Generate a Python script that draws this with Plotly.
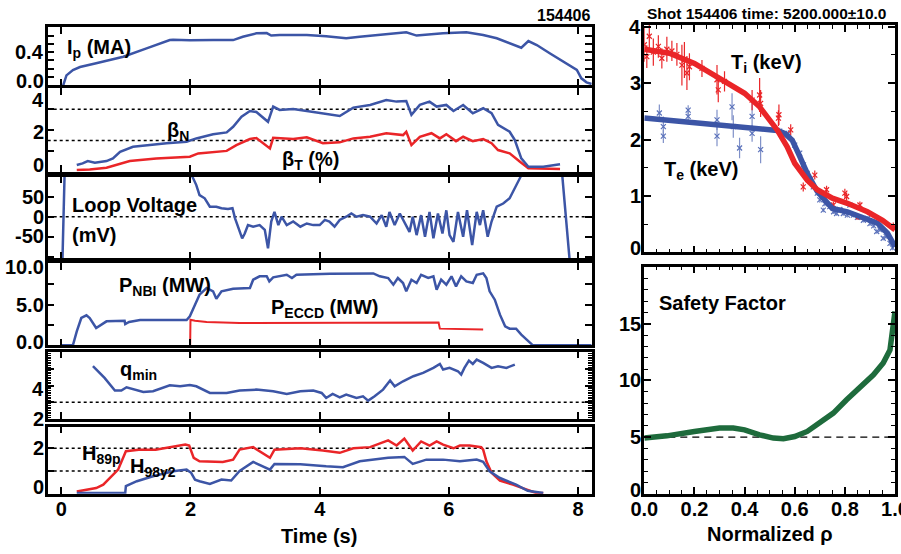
import plotly.graph_objects as go

# ---------------- data ----------------
ip_t = [0.03, 0.08, 0.18, 0.29, 0.54, 0.96, 1.32, 1.68, 1.73, 1.99,
        2.35, 2.66, 2.81, 3.02, 3.18, 3.25, 3.38, 3.80, 4.10, 4.41,
        4.62, 5.14, 5.34, 5.50, 5.91, 6.27, 6.53, 6.74, 6.94, 7.12,
        7.23, 7.36, 7.56, 7.77, 7.98, 8.05, 8.13, 8.21]
ip_v = [0.00, 0.12, 0.185, 0.22, 0.265, 0.345, 0.446, 0.546, 0.55, 0.543,
        0.546, 0.546, 0.586, 0.627, 0.63, 0.60, 0.607, 0.607, 0.593, 0.567,
        0.586, 0.619, 0.64, 0.60, 0.627, 0.64, 0.607, 0.567, 0.507, 0.454,
        0.534, 0.486, 0.386, 0.285, 0.185, 0.084, 0.036, 0.016]

betan_t = [0.24, 0.33, 0.41, 0.52, 0.70, 0.80, 0.91, 1.03, 1.11, 1.37,
           1.63, 1.94, 2.09, 2.35, 2.56, 2.66, 2.79, 2.92, 3.02, 3.20,
           3.28, 3.38, 3.59, 3.80, 3.95, 4.05, 4.31, 4.52, 4.78, 5.03,
           5.19, 5.34, 5.42, 5.55, 5.70, 5.81, 5.96, 6.07, 6.22, 6.37,
           6.53, 6.66, 6.76, 6.94, 7.02, 7.12, 7.23, 7.46, 7.72]
betan_v = [0.32, 0.40, 0.51, 0.43, 0.51, 0.64, 0.96, 1.09, 1.20, 1.28,
           1.37, 1.44, 1.60, 1.80, 1.89, 2.16, 2.64, 2.92, 2.87, 2.40,
           3.13, 2.97, 3.01, 2.92, 2.86, 2.81, 2.68, 3.08, 3.21, 3.45,
           3.37, 3.40, 2.73, 3.21, 3.37, 3.13, 3.21, 2.92, 3.21, 2.81,
           3.05, 2.81, 2.25, 1.92, 1.52, 0.64, 0.24, 0.24, 0.36]

betat_t = [0.24, 0.44, 0.70, 0.91, 1.06, 1.47, 1.99, 2.12, 2.56, 2.71,
           2.92, 3.02, 3.23, 3.28, 3.59, 3.80, 4.05, 4.31, 4.52, 4.78,
           5.03, 5.29, 5.34, 5.42, 5.55, 5.73, 5.86, 5.96, 6.11, 6.22,
           6.37, 6.53, 6.66, 6.76, 6.94, 7.10, 7.23, 7.72]
betat_v = [0.08, 0.11, 0.19, 0.36, 0.51, 0.64, 0.72, 0.88, 1.00, 1.28,
           1.57, 1.62, 1.12, 1.63, 1.57, 1.65, 1.37, 1.41, 1.60, 1.68,
           1.85, 1.76, 1.92, 1.28, 1.68, 1.85, 1.60, 1.80, 1.47, 1.68,
           1.47, 1.57, 1.37, 1.04, 0.88, 0.48, 0.16, 0.13]

vloop_t = [0.015, 0.055, 2.00, 2.03, 2.09, 2.14, 2.22, 2.30, 2.40, 2.48,
           2.58, 2.65, 2.69, 2.76, 2.80, 2.84, 2.89, 2.97, 3.07, 3.15,
           3.20, 3.25, 3.30, 3.36, 3.41, 3.49, 3.59, 3.70, 3.80, 3.90,
           4.00, 4.08, 4.15, 4.23, 4.31, 4.41, 4.49, 4.57, 4.67, 4.78,
           4.88, 4.96, 5.03, 5.08, 5.16, 5.24, 5.31, 5.39, 5.44, 5.50,
           5.57, 5.63, 5.70, 5.76, 5.83, 5.90, 5.96, 6.01, 6.07, 6.14,
           6.22, 6.28, 6.36, 6.43, 6.48, 6.53, 6.60, 6.66, 6.74, 6.84,
           6.94, 7.02, 7.11, 7.15, 7.74, 7.88]
vloop_v = [-130, 130, 130, 100, 79, 54, 46, 25, 25, 21,
           19, 21, -4, -33, -54, -42, -21, -25, -21, -33,
           -79, -12, 12, -21, 0, -21, -12, -25, -17, -21,
           -21, -8, -12, -25, -8, 0, 8, 0, 4, 0,
           -17, 4, -25, 12, -21, 8, -12, -38, 0, -46,
           4, -50, 12, -54, 8, -42, 16, -46, -63, 12,
           -50, 16, -71, 12, -21, 16, -50, -12, 25, 33,
           46, 71, 100, 130, 130, -130]

pnbi_t = [0.00, 0.18, 0.24, 0.31, 0.39, 0.44, 0.54, 0.62, 0.70, 0.98,
          0.99, 1.05, 1.22, 1.94, 1.99, 2.07, 2.14, 2.25, 2.35, 2.40,
          2.48, 2.66, 2.92, 2.97, 3.07, 3.18, 3.22, 3.28, 3.49, 3.57,
          3.64, 4.16, 4.83, 4.93, 5.06, 5.14, 5.21, 5.29, 5.34, 5.42,
          5.50, 5.57, 5.68, 5.76, 5.81, 5.88, 5.96, 6.04, 6.11, 6.19,
          6.27, 6.37, 6.43, 6.53, 6.58, 6.63, 6.71, 6.79, 6.87, 6.94,
          7.04, 7.12, 7.20, 7.30, 8.21]
pnbi_v = [0.0, 0.0, 1.72, 3.36, 3.69, 3.36, 2.13, 2.54, 2.95, 3.03,
          2.62, 2.87, 3.11, 3.11, 3.57, 5.00, 6.23, 7.05, 6.64, 5.73,
          6.64, 6.96, 7.05, 8.07, 8.49, 8.49, 7.87, 8.36, 8.68, 8.28,
          8.68, 8.81, 8.85, 8.49, 8.28, 7.46, 8.28, 7.66, 6.64, 8.07,
          7.66, 8.68, 8.28, 8.49, 6.84, 8.07, 7.46, 8.49, 7.25, 8.49,
          7.87, 7.66, 8.68, 8.85, 8.28, 6.64, 5.61, 3.77, 2.34, 2.05,
          2.05, 1.31, 0.69, 0.0, 0.0]

peccd_t = [1.995, 2.00, 2.07, 2.25, 2.76, 4.16, 5.84, 5.86, 6.53]
peccd_v = [0.0, 3.15, 3.03, 2.87, 2.75, 2.75, 2.80, 2.05, 1.93]

qmin_t = [0.49, 0.67, 0.83, 0.93, 1.01, 1.09, 1.27, 1.42, 1.68, 1.84,
          1.99, 2.09, 2.30, 2.56, 2.76, 3.02, 3.28, 3.49, 3.70, 3.90,
          4.03, 4.10, 4.20, 4.31, 4.41, 4.57, 4.67, 4.75, 4.85, 4.98,
          5.09, 5.16, 5.29, 5.45, 5.60, 5.76, 5.86, 5.91, 6.01, 6.14,
          6.19, 6.24, 6.31, 6.37, 6.43, 6.53, 6.66, 6.76, 6.89, 7.02]
qmin_v = [5.16, 4.46, 3.70, 3.70, 3.90, 3.80, 3.62, 3.66, 4.02, 3.96,
          4.04, 3.96, 3.56, 3.56, 3.70, 3.76, 3.66, 3.50, 3.66, 3.70,
          3.56, 3.26, 3.50, 3.30, 3.46, 3.26, 3.36, 3.10, 3.36, 3.76,
          4.30, 3.96, 4.26, 4.56, 4.76, 5.06, 5.30, 4.96, 5.06, 4.86,
          4.66, 5.06, 5.50, 5.30, 5.56, 5.36, 5.06, 5.16, 5.06, 5.26]

h89_t = [0.24, 0.54, 0.65, 0.78, 0.88, 1.00, 1.20, 1.46, 1.72, 1.92,
         1.98, 2.05, 2.14, 2.50, 2.66, 2.76, 2.97, 3.23, 3.30, 3.70,
         4.05, 4.31, 4.52, 4.78, 5.06, 5.19, 5.31, 5.44, 5.57, 5.70,
         5.81, 5.91, 6.07, 6.17, 6.32, 6.50, 6.53, 6.58, 6.66, 6.79,
         6.99, 7.20, 7.35, 7.46]
h89_v = [0.10, 0.25, 0.40, 0.77, 1.06, 1.87, 1.93, 1.94, 2.05, 2.16,
         2.12, 1.58, 1.43, 1.40, 1.50, 1.94, 2.05, 1.58, 1.94, 2.00,
         1.90, 1.80, 2.00, 2.05, 2.35, 2.12, 2.43, 1.90, 2.30, 2.12,
         2.30, 2.16, 2.00, 2.12, 2.12, 2.05, 1.94, 1.43, 0.92, 0.58,
         0.40, 0.18, 0.03, 0.03]

h98_t = [0.24, 0.99, 1.00, 1.17, 1.42, 1.73, 1.94, 2.01, 2.07, 2.14,
         2.30, 2.48, 2.63, 2.76, 2.97, 3.23, 3.30, 3.70, 4.10, 4.36,
         4.62, 5.06, 5.31, 5.44, 5.65, 5.91, 6.17, 6.43, 6.53, 6.63,
         6.79, 7.04, 7.22, 7.46]
h98_v = [0.03, 0.03, 0.33, 0.55, 0.77, 0.99, 1.06, 0.92, 0.62, 0.55,
         0.43, 0.62, 0.58, 1.00, 1.40, 1.06, 1.31, 1.30, 1.21, 1.17,
         1.43, 1.58, 1.62, 1.31, 1.50, 1.50, 1.43, 1.50, 1.40, 0.99,
         0.69, 0.40, 0.13, 0.03]

# profiles at t = 5200 ms
ti_fit_rho = [0.0, 0.1, 0.2, 0.3, 0.355, 0.4, 0.46, 0.53, 0.57, 0.6,
              0.65, 0.69, 0.75, 0.81, 0.89, 0.95, 1.0]
ti_fit = [3.60, 3.53, 3.35, 3.09, 2.94, 2.82, 2.58, 2.17, 1.87, 1.58,
          1.28, 1.11, 0.96, 0.87, 0.72, 0.57, 0.40]
te_fit_rho = [0.0, 0.22, 0.42, 0.53, 0.56, 0.59, 0.62, 0.65, 0.69, 0.73,
              0.75, 0.81, 0.87, 0.93, 0.97, 1.0]
te_fit = [2.38, 2.29, 2.20, 2.16, 2.11, 1.99, 1.70, 1.40, 1.08, 0.87,
          0.78, 0.72, 0.63, 0.52, 0.34, 0.10]

ti_rho = [0.0, 0.01, 0.02, 0.036, 0.056, 0.07, 0.09, 0.11, 0.13, 0.15,
          0.16, 0.17, 0.18, 0.23, 0.29, 0.295, 0.32, 0.43, 0.46, 0.464,
          0.535, 0.537, 0.584, 0.634, 0.68, 0.727, 0.754, 0.80, 0.807, 0.86,
          0.854, 0.993]
ti_val = [3.68, 3.47, 3.83, 3.55, 3.65, 3.44, 3.60, 3.57, 3.51, 3.32,
          3.41, 3.18, 3.29, 3.26, 3.06, 2.88, 3.03, 2.70, 2.79, 2.64,
          2.38, 2.44, 2.17, 1.16, 1.37, 1.11, 0.84, 1.05, 0.99, 0.84,
          0.63, 0.46]
ti_err = [0.30, 0.20, 0.28, 0.24, 0.20, 0.18, 0.22, 0.18, 0.20, 0.36,
          0.32, 0.30, 0.24, 0.15, 0.26, 0.22, 0.18, 0.18, 0.30, 0.24,
          0.14, 0.18, 0.10, 0.08, 0.08, 0.07, 0.06, 0.08, 0.07, 0.06,
          0.05, 0.07]

te_rho = [0.06, 0.076, 0.076, 0.175, 0.175, 0.29, 0.29, 0.35, 0.355, 0.38,
          0.43, 0.43, 0.464, 0.54, 0.575, 0.60, 0.62, 0.635, 0.65, 0.66,
          0.674, 0.69, 0.70, 0.714, 0.72, 0.74, 0.755, 0.767, 0.78, 0.794,
          0.81, 0.82, 0.834, 0.85, 0.874, 0.89, 0.90, 0.915, 0.927, 0.94,
          0.953, 0.965, 0.98, 0.99]
te_val = [2.47, 2.23, 2.06, 2.52, 2.41, 2.35, 2.06, 2.58, 2.23, 1.85,
          2.41, 2.11, 1.82, 2.15, 2.11, 1.90, 1.76, 1.55, 1.40, 1.28,
          1.16, 1.05, 0.93, 0.75, 0.86, 0.81, 0.72, 0.69, 0.76, 0.69,
          0.66, 0.84, 0.66, 0.62, 0.57, 0.60, 0.51, 0.47, 0.37, 0.40,
          0.25, 0.28, 0.16, 0.08]
te_err = [0.15, 0.18, 0.12, 0.09, 0.09, 0.18, 0.18, 0.24, 0.20, 0.18,
          0.24, 0.15, 0.24, 0.06, 0.06, 0.05, 0.05, 0.05, 0.05, 0.05,
          0.05, 0.05, 0.05, 0.04, 0.04, 0.04, 0.04, 0.04, 0.04, 0.04,
          0.04, 0.04, 0.04, 0.04, 0.04, 0.04, 0.04, 0.04, 0.04, 0.04,
          0.04, 0.04, 0.04, 0.04]

q_rho = [0.0, 0.09, 0.2, 0.3, 0.355, 0.4, 0.46, 0.515, 0.555, 0.6,
         0.65, 0.7, 0.754, 0.807, 0.86, 0.914, 0.953, 0.98, 1.0]
q_val = [4.91, 5.11, 5.50, 5.80, 5.80, 5.64, 5.20, 4.91, 4.85, 5.05,
         5.50, 6.23, 7.12, 8.30, 9.33, 10.50, 11.54, 12.70, 16.10]

# tick labels
ip_tickvals, ip_ticktext = [0.4, 0.0], ["0.4", "0.0"]
beta_tickvals, beta_ticktext = [4, 2, 0], ["4", "2", "0"]
vloop_tickvals, vloop_ticktext = [50, 0, -50], ["50", "0", "-50"]
p_tickvals, p_ticktext = [10, 5, 0], ["10.0", "5.0", "0.0"]
qmin_tickvals, qmin_ticktext = [4, 2], ["4", "2"]
h_tickvals, h_ticktext = [2, 0], ["2", "0"]
time_tickvals, time_ticktext = [0, 2, 4, 6, 8], ["0", "2", "4", "6", "8"]
temp_tickvals, temp_ticktext = [4, 3, 2, 1, 0], ["4", "3", "2", "1", "0"]
q_tickvals, q_ticktext = [15, 10, 5, 0], ["15", "10", "5", "0"]
rho_tickvals = [0.0, 0.2, 0.4, 0.6, 0.8, 1.0]
rho_ticktext = ["0.0", "0.2", "0.4", "0.6", "0.8", "1.0"]

# ---------------- figure ----------------
W, H = 901, 554
BLUE = "#3c55a6"
RED = "#ea2528"
GREEN = "#1e6b3c"
FAM = "Liberation Sans, Arial, Helvetica, sans-serif"
FONT = dict(family=FAM, size=20, color="black", weight="bold")


def fx(p):
    return p / W


def fy(p):
    return 1 - p / H


LEFT_X = (47.7, 591.7)
RIGHT_X = (644.3, 895.0)

# (top px, bottom px, y range, dtick, minor dtick)
panels = [
    (27.3, 85.3, [0, 0.7], 0.1, None),
    (88.3, 171.7, [0, 4.01], 1, None),
    (176.7, 258.3, [-104, 100], 50, None),
    (263.3, 345.3, [0, 10.09], 2.5, None),
    (351.7, 419.0, [2, 6.03], 1, 0.1),
    (426.7, 493.7, [0, 2.95], 1, None),
    (25.0, 252.4, [0, 4.03], 1, 0.5),
    (266.7, 493.7, [0, 20.05], 5, 1),
]

fig = go.Figure()
layout = {}
for i, (top, bot, yr, dt, mn) in enumerate(panels, start=1):
    sfx = "" if i == 1 else str(i)
    left = i <= 6
    xd = LEFT_X if left else RIGHT_X
    xa = dict(
        domain=[fx(xd[0]), fx(xd[1])], anchor="y" + sfx,
        range=[-0.21, 8.21] if left else [0, 1.0],
        showline=True, linecolor="black", linewidth=2.5, mirror="ticks",
        ticks="inside", ticklen=7, tickwidth=1.5, tickcolor="black",
        showgrid=False, zeroline=False, showticklabels=False,
        tickmode="array", automargin=False,
        tickvals=time_tickvals if left else rho_tickvals,
    )
    if not left:
        xa["minor"] = dict(dtick=0.05, ticks="inside", ticklen=4,
                           tickcolor="black", tickwidth=1)
    if i == 6:
        xa.update(showticklabels=True, ticktext=time_ticktext,
                  tickfont=FONT, ticklabelstandoff=-4)
    if i == 8:
        xa.update(showticklabels=True, ticktext=rho_ticktext,
                  tickfont=FONT, ticklabelstandoff=-4,
                  ticklabeloverflow="allow")
    ya = dict(
        domain=[fy(bot), fy(top)], anchor="x" + sfx, range=yr,
        showline=True, linecolor="black", linewidth=2.5, mirror="ticks",
        ticks="inside", ticklen=7, tickwidth=1.5, tickcolor="black",
        showgrid=False, zeroline=False, showticklabels=False,
        tick0=0, dtick=dt, automargin=False,
    )
    if mn:
        ya["minor"] = dict(dtick=mn, ticks="inside", ticklen=4,
                           tickcolor="black", tickwidth=1)
    layout["xaxis" + sfx] = xa
    layout["yaxis" + sfx] = ya


def line(x, y, ax, color, width=2.5):
    sfx = "" if ax == 1 else str(ax)
    fig.add_trace(go.Scatter(x=x, y=y, xaxis="x" + sfx, yaxis="y" + sfx,
                             mode="lines", line=dict(color=color, width=width),
                             showlegend=False, hoverinfo="skip"))


line(ip_t, ip_v, 1, BLUE)
line(betat_t, betat_v, 2, RED)
line(betan_t, betan_v, 2, BLUE)
line(vloop_t, vloop_v, 3, BLUE)
line(pnbi_t, pnbi_v, 4, BLUE)
line(peccd_t, peccd_v, 4, RED, 2)
line(qmin_t, qmin_v, 5, BLUE)
line(h89_t, h89_v, 6, RED)
line(h98_t, h98_v, 6, BLUE)

# profile data points with error bars
fig.add_trace(go.Scatter(
    x=te_rho, y=te_val, xaxis="x7", yaxis="y7", mode="markers",
    marker=dict(symbol="x-thin", size=5, line=dict(width=1.2, color="#5b72bb")),
    error_y=dict(type="data", array=te_err, visible=True, color="#7f90c8",
                 thickness=1.2, width=0),
    showlegend=False, hoverinfo="skip"))
fig.add_trace(go.Scatter(
    x=ti_rho, y=ti_val, xaxis="x7", yaxis="y7", mode="markers",
    marker=dict(symbol="x-thin", size=5, line=dict(width=1.2, color=RED)),
    error_y=dict(type="data", array=ti_err, visible=True, color=RED,
                 thickness=1.2, width=0),
    showlegend=False, hoverinfo="skip"))
line(te_fit_rho, te_fit, 7, BLUE, 5.5)
line(ti_fit_rho, ti_fit, 7, RED, 5.5)
line(q_rho, q_val, 8, GREEN, 5.5)

# reference lines
shapes = []


def hline(ax, yv, dash="3px,3px", width=1.5):
    sfx = "" if ax == 1 else str(ax)
    shapes.append(dict(type="line", xref="x" + sfx + " domain", yref="y" + sfx,
                       x0=0, x1=1, y0=yv, y1=yv, layer="below",
                       line=dict(color="black", width=width, dash=dash)))


hline(2, 3.0)
hline(2, 1.5)
hline(3, 0)
hline(5, 3.0)
hline(6, 2.0)
hline(6, 1.0)
hline(8, 5.0, dash="7px,5px", width=1.2)

# annotations
ann = []


def ylabels(ax, vals, texts, shifts, xr):
    sfx = "" if ax == 1 else str(ax)
    for v, t, s in zip(vals, texts, shifts):
        ann.append(dict(text=t, x=fx(xr), xref="paper", xanchor="right",
                        y=v, yref="y" + sfx, yanchor="middle", yshift=s,
                        showarrow=False, font=FONT))


ylabels(1, ip_tickvals, ip_ticktext, [0, 4], 46)
ylabels(2, beta_tickvals, beta_ticktext, [-11, -2, 7], 46)
ylabels(3, vloop_tickvals, vloop_ticktext, [0, 0, 1], 46)
ylabels(4, p_tickvals, p_ticktext, [-3, 0, 3], 46)
ylabels(5, qmin_tickvals, qmin_ticktext, [-3, 0], 46)
ylabels(6, h_tickvals, h_ticktext, [0, 7], 46)
ylabels(7, temp_tickvals, temp_ticktext, [0, 0, 0, 0, 4], 642.5)
ylabels(8, q_tickvals, q_ticktext, [0, 0, 0, 4], 642.5)


def text(t, x, y, anchor="left", size=20):
    f = dict(FONT)
    f["size"] = size
    ann.append(dict(text=t, x=fx(x), y=fy(y), xref="paper", yref="paper",
                    xanchor=anchor, yanchor="middle", showarrow=False, font=f))


text("I<sub>p</sub> (MA)", 65, 48)
text("β<sub>N</sub>", 165, 131)
text("β<sub>T</sub> (%)", 280, 160)
text("Loop Voltage", 70, 205)
text("(mV)", 70, 235)
text("P<sub>NBI</sub> (MW)", 117, 286)
text("P<sub>ECCD</sub> (MW)", 269, 308)
text("q<sub>min</sub>", 118, 370)
text("H<sub>89p</sub>", 80, 454)
text("H<sub>98y2</sub>", 128, 467)
text("T<sub>i</sub> (keV)", 729, 64)
text("T<sub>e</sub> (keV)", 662, 171)
text("Safety Factor", 657, 303)
text("154406", 592, 15, anchor="right", size=16)
text("Shot 154406 time: 5200.000±10.0", 766, 13, anchor="center", size=15.5)
text("Time (s)", 319, 536, anchor="center")
text("Normalized ρ", 770, 534, anchor="center")

fig.update_layout(
    width=W, height=H, margin=dict(l=0, r=0, t=0, b=0, autoexpand=False),
    paper_bgcolor="white", plot_bgcolor="white",
    showlegend=False, shapes=shapes, annotations=ann, **layout,
)

fig.write_html("out.html", config={"displayModeBar": False},
               post_script="document.body.style.margin='0px';"
                           "document.body.style.overflow='hidden';")
